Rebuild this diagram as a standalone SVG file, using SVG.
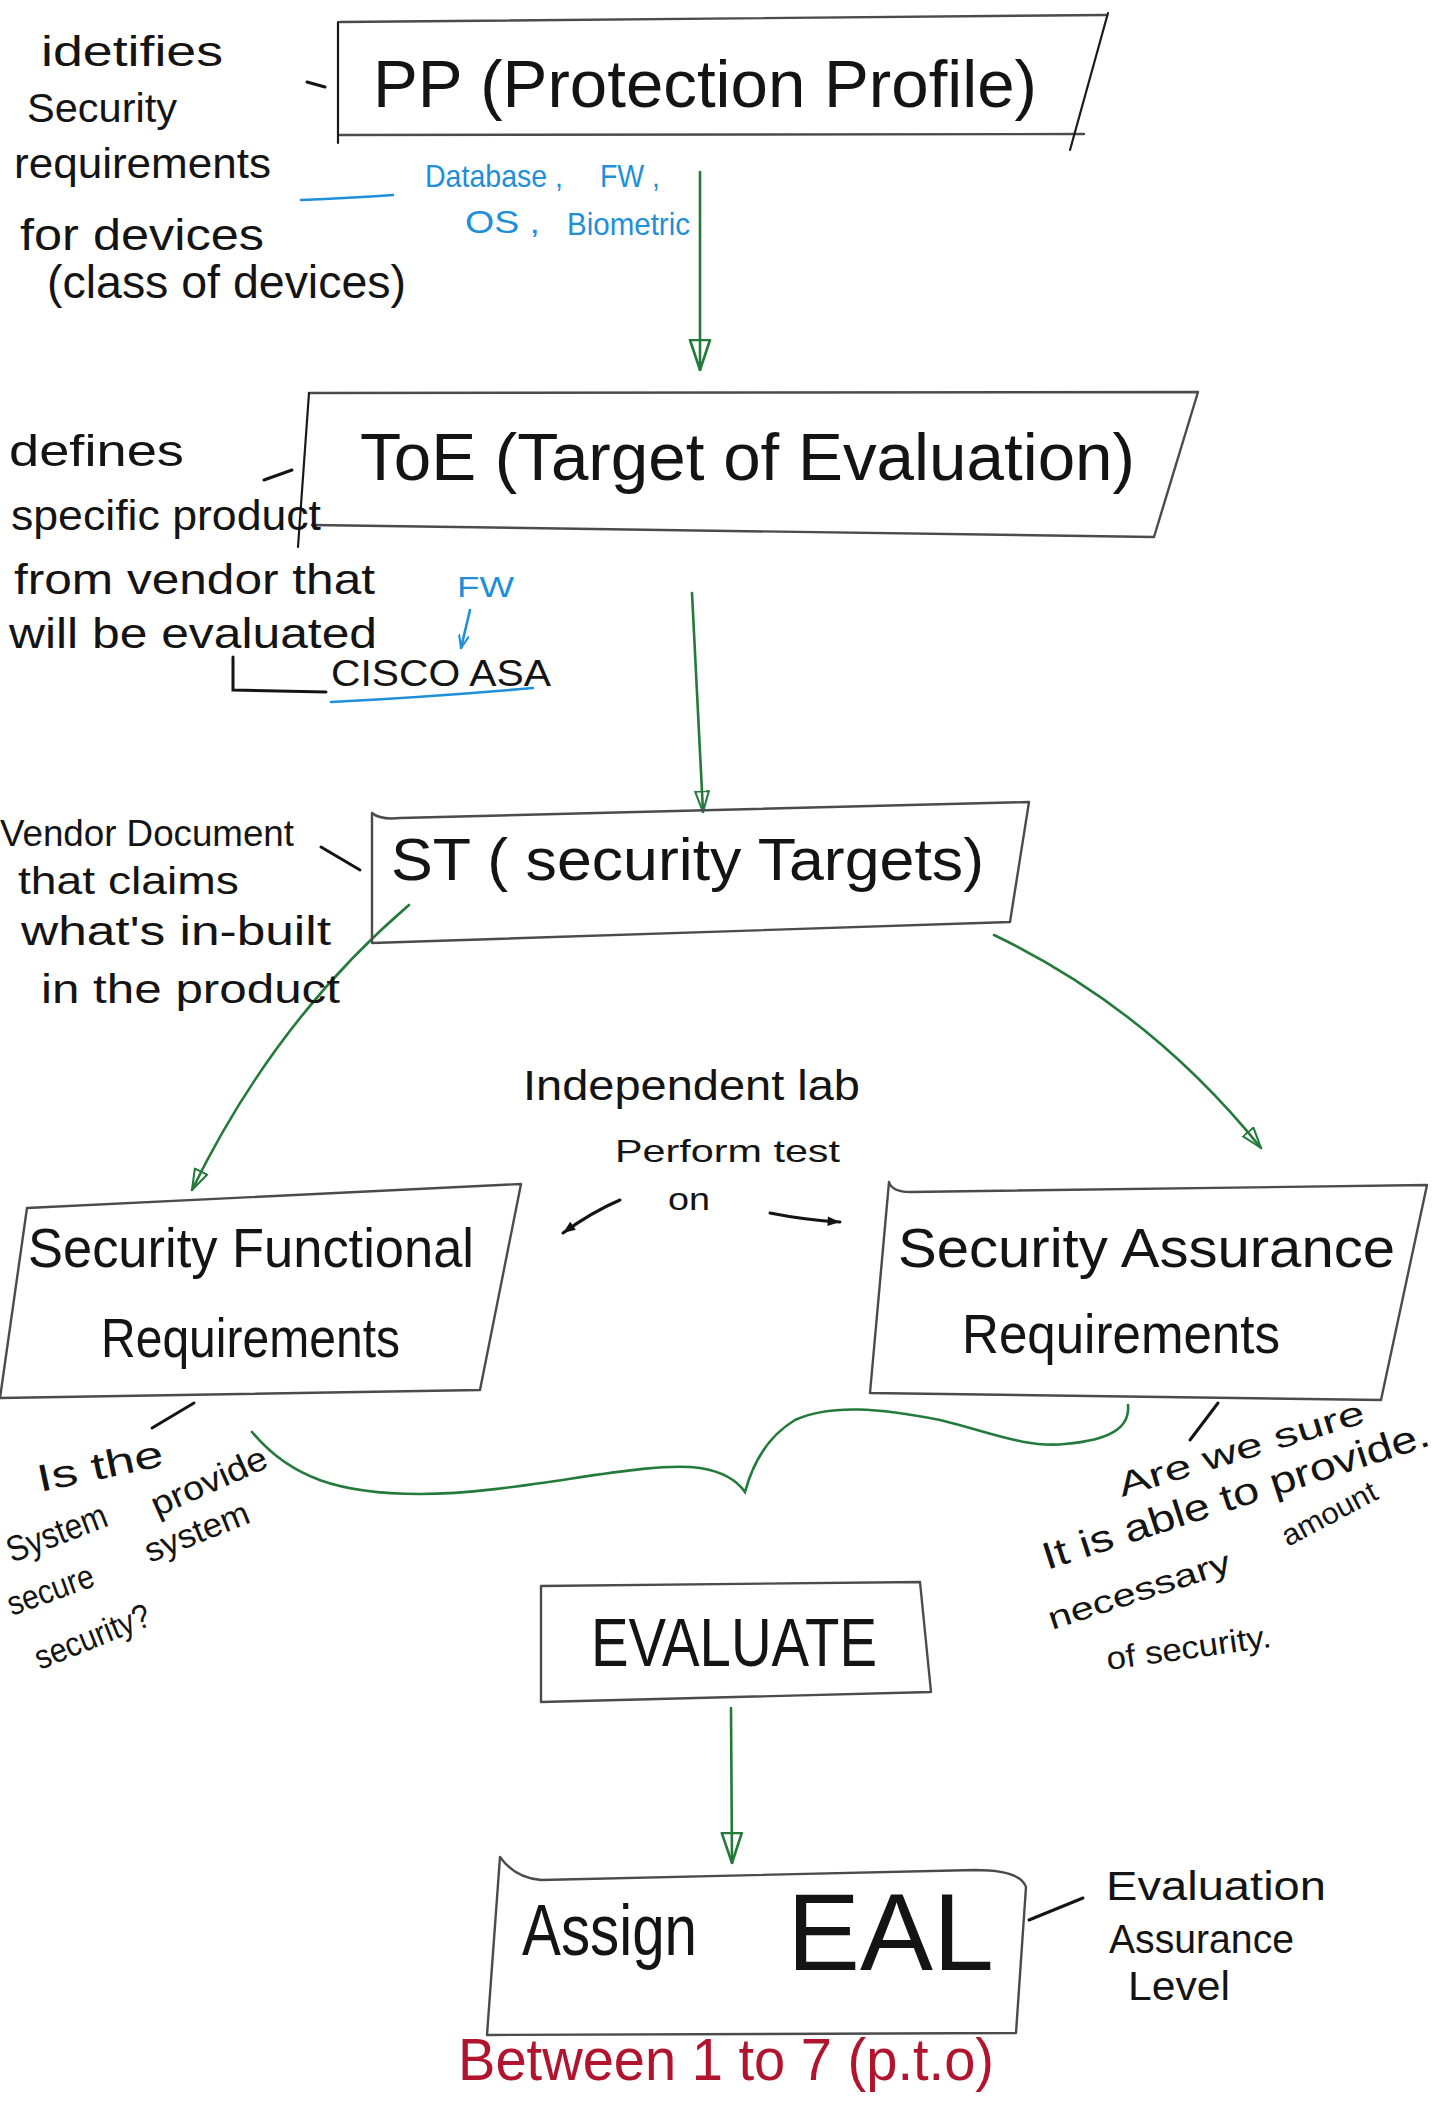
<svg xmlns="http://www.w3.org/2000/svg" width="1444" height="2123" viewBox="0 0 1444 2123">
  <style>
    .t { font-family: "Liberation Sans", Arial, sans-serif; fill: #141414; }
    .blue { fill: #1e8fd8; }
    .red { fill: #b0142e; }
    .box { fill: none; stroke: #4b4b4b; stroke-width: 2.4; stroke-linejoin: round; stroke-linecap: round; }
    .edge { fill: none; stroke: #1a1a1a; stroke-width: 2.2; stroke-linecap: round; }
    .ink { fill: none; stroke: #141414; stroke-width: 3; stroke-linecap: round; }
    .gr { fill: none; stroke: #237a3b; stroke-width: 2.6; stroke-linecap: round; }
    .bl { fill: none; stroke: #1e8fd8; stroke-width: 2.6; stroke-linecap: round; }
  </style>
  <defs>
    <marker id="headG" viewBox="0 0 32 24" refX="31" refY="12" markerWidth="32" markerHeight="24" markerUnits="userSpaceOnUse" orient="auto">
      <path d="M1,2 L31,12 L1,22 Z" fill="none" stroke="#237a3b" stroke-width="2.6" stroke-linejoin="round"/>
    </marker>
    <marker id="headGs" viewBox="0 0 32 24" refX="31" refY="12" markerWidth="22" markerHeight="17" markerUnits="userSpaceOnUse" orient="auto">
      <path d="M1,2 L31,12 L1,22 Z" fill="none" stroke="#237a3b" stroke-width="3" stroke-linejoin="round"/>
    </marker>
    <marker id="headB" viewBox="0 0 20 16" refX="19" refY="8" markerWidth="14" markerHeight="11" markerUnits="userSpaceOnUse" orient="auto">
      <path d="M1,1 L19,8 L1,15" fill="none" stroke="#1e8fd8" stroke-width="3" stroke-linecap="round"/>
    </marker>
    <marker id="headK" viewBox="0 0 20 16" refX="19" refY="8" markerWidth="14" markerHeight="11" markerUnits="userSpaceOnUse" orient="auto">
      <path d="M1,1 L19,8 L1,15 Z" fill="#141414"/>
    </marker>
  </defs>

  <rect width="1444" height="2123" fill="#ffffff"/>

  <!-- connectors -->
  <g id="connectors">
    <!-- PP -> ToE -->
    <path class="gr" d="M700,172 L700,370" marker-end="url(#headG)"/>
    <!-- ToE -> ST -->
    <path class="gr" d="M692,593 L703,812" marker-end="url(#headGs)"/>
    <!-- ST -> SFR / SAR -->
    <path class="gr" d="M409,905 Q275,1020 192,1190" marker-end="url(#headGs)"/>
    <path class="gr" d="M994,935 Q1150,1010 1261,1148" marker-end="url(#headGs)"/>
    <!-- brace joining SFR and SAR -->
    <path class="gr" d="M252,1432 C290,1478 340,1494 420,1494 C520,1494 640,1460 700,1468 C725,1472 738,1482 745,1492 C752,1466 765,1438 795,1420 C830,1404 880,1408 940,1420 C990,1432 1025,1448 1065,1444 C1110,1440 1130,1428 1128,1405"/>
    <!-- EVALUATE -> Assign EAL -->
    <path class="gr" d="M731,1708 L732,1863" marker-end="url(#headG)"/>
    <!-- lab performs tests on both requirement sets -->
    <path class="ink" d="M620,1200 Q592,1212 563,1233" marker-end="url(#headK)"/>
    <path class="ink" d="M770,1213 Q805,1220 840,1222" marker-end="url(#headK)"/>
    <!-- blue notes -->
    <path class="bl" d="M301,200 Q350,198 393,195"/>
    <path class="bl" d="M470,610 L461,648" marker-end="url(#headB)"/>
    <path class="bl" d="M331,702 Q430,697 533,688"/>
    <!-- callout ticks -->
    <path class="ink" d="M307,82 L325,87"/>
    <path class="ink" d="M264,480 L292,470"/>
    <path class="ink" d="M233,657 L233,690 L326,692"/>
    <path class="ink" d="M321,847 L360,870"/>
    <path class="ink" d="M194,1403 L152,1428" stroke="#333"/>
    <path class="ink" d="M1218,1403 L1190,1440"/>
    <path class="ink" d="M1029,1920 L1083,1898"/>
  </g>

  <!-- PP node -->
  <g id="pp">
    <path class="box" d="M340,22 L1106,15"/>
    <path class="box" d="M340,135 L1084,134"/>
    <path class="edge" d="M338,22 L338,143"/>
    <path class="edge" d="M1108,13 L1070,150"/>
    <text class="t" x="373" y="107" font-size="66" textLength="664" lengthAdjust="spacingAndGlyphs">PP (Protection Profile)</text>
  </g>

  <!-- ToE node -->
  <g id="toe">
    <path class="box" d="M309,393 L1198,392 L1154,537 L312,525"/>
    <path class="edge" d="M309,393 L298,547"/>
    <text class="t" x="360" y="480" font-size="66" textLength="775" lengthAdjust="spacingAndGlyphs">ToE (Target of Evaluation)</text>
  </g>

  <!-- ST node -->
  <g id="st">
    <path class="box" d="M372,813 Q380,820 400,818 L1029,802 L1010,922 L372,943 Z"/>
    <text class="t" x="391" y="880" font-size="60" textLength="593" lengthAdjust="spacingAndGlyphs">ST ( security Targets)</text>
  </g>

  <!-- Security Functional Requirements node -->
  <g id="sfr">
    <path class="box" d="M27,1208 L521,1184 L480,1390 L0,1398 Z"/>
    <text class="t" x="28" y="1267" font-size="56" textLength="446" lengthAdjust="spacingAndGlyphs">Security Functional</text>
    <text class="t" x="101" y="1357" font-size="56" textLength="299" lengthAdjust="spacingAndGlyphs">Requirements</text>
  </g>

  <!-- Security Assurance Requirements node -->
  <g id="sar">
    <path class="box" d="M889,1182 Q892,1192 910,1192 L1427,1185 L1381,1400 L870,1393 Z"/>
    <text class="t" x="898" y="1267" font-size="56" textLength="497" lengthAdjust="spacingAndGlyphs">Security Assurance</text>
    <text class="t" x="962" y="1353" font-size="56" textLength="318" lengthAdjust="spacingAndGlyphs">Requirements</text>
  </g>

  <!-- EVALUATE node -->
  <g id="evaluate">
    <path class="box" d="M541,1586 L920,1582 L931,1692 L541,1702 Z"/>
    <text class="t" x="591" y="1666" font-size="68" textLength="286" lengthAdjust="spacingAndGlyphs">EVALUATE</text>
  </g>

  <!-- Assign EAL node -->
  <g id="eal">
    <path class="box" d="M500,1857 Q515,1878 541,1880 L975,1870 Q1020,1870 1026,1887 L1016,2033 L487,2035 Z"/>
    <text class="t" x="522" y="1955" font-size="72" textLength="175" lengthAdjust="spacingAndGlyphs">Assign</text>
    <text class="t" x="787" y="1970" font-size="110" textLength="207" lengthAdjust="spacingAndGlyphs">EAL</text>
  </g>

  <!-- notes beside PP -->
  <g id="note-pp">
    <text class="t" x="41" y="66" font-size="42" textLength="182" lengthAdjust="spacingAndGlyphs">idetifies</text>
    <text class="t" x="27" y="122" font-size="40" textLength="150" lengthAdjust="spacingAndGlyphs">Security</text>
    <text class="t" x="14" y="178" font-size="42" textLength="257" lengthAdjust="spacingAndGlyphs">requirements</text>
    <text class="t" x="20" y="250" font-size="44" textLength="244" lengthAdjust="spacingAndGlyphs">for devices</text>
    <text class="t" x="47" y="298" font-size="46" textLength="359" lengthAdjust="spacingAndGlyphs">(class of devices)</text>
    <text class="t blue" x="425" y="187" font-size="32" textLength="138" lengthAdjust="spacingAndGlyphs">Database ,</text>
    <text class="t blue" x="600" y="187" font-size="32" textLength="60" lengthAdjust="spacingAndGlyphs">FW ,</text>
    <text class="t blue" x="465" y="233" font-size="32" textLength="75" lengthAdjust="spacingAndGlyphs">OS ,</text>
    <text class="t blue" x="567" y="235" font-size="32" textLength="123" lengthAdjust="spacingAndGlyphs">Biometric</text>
  </g>

  <!-- notes beside ToE -->
  <g id="note-toe">
    <text class="t" x="9" y="466" font-size="44" textLength="175" lengthAdjust="spacingAndGlyphs">defines</text>
    <text class="t" x="11" y="530" font-size="42" textLength="310" lengthAdjust="spacingAndGlyphs">specific product</text>
    <text class="t" x="14" y="594" font-size="42" textLength="361" lengthAdjust="spacingAndGlyphs">from vendor that</text>
    <text class="t" x="9" y="648" font-size="42" textLength="368" lengthAdjust="spacingAndGlyphs">will be evaluated</text>
    <text class="t" x="331" y="686" font-size="36" textLength="220" lengthAdjust="spacingAndGlyphs">CISCO ASA</text>
    <text class="t blue" x="457" y="597" font-size="30" textLength="57" lengthAdjust="spacingAndGlyphs">FW</text>
  </g>

  <!-- notes beside ST -->
  <g id="note-st">
    <text class="t" x="0" y="846" font-size="36" textLength="294" lengthAdjust="spacingAndGlyphs">Vendor Document</text>
    <text class="t" x="18" y="894" font-size="38" textLength="221" lengthAdjust="spacingAndGlyphs">that claims</text>
    <text class="t" x="21" y="945" font-size="40" textLength="310" lengthAdjust="spacingAndGlyphs">what's in-built</text>
    <text class="t" x="41" y="1003" font-size="40" textLength="299" lengthAdjust="spacingAndGlyphs">in the product</text>
  </g>

  <!-- independent lab note -->
  <g id="note-lab">
    <text class="t" x="523" y="1100" font-size="42" textLength="337" lengthAdjust="spacingAndGlyphs">Independent lab</text>
    <text class="t" x="615" y="1162" font-size="32" textLength="225" lengthAdjust="spacingAndGlyphs">Perform test</text>
    <text class="t" x="668" y="1210" font-size="32" textLength="42" lengthAdjust="spacingAndGlyphs">on</text>
  </g>

  <!-- question under SFR -->
  <g id="note-sfr">
    <text class="t" font-size="38" transform="translate(40,1492) rotate(-12)" textLength="128" lengthAdjust="spacingAndGlyphs">Is the</text>
    <text class="t" font-size="34" transform="translate(157,1517) rotate(-24)" textLength="124" lengthAdjust="spacingAndGlyphs">provide</text>
    <text class="t" font-size="36" transform="translate(12,1563) rotate(-21)" textLength="105" lengthAdjust="spacingAndGlyphs">System</text>
    <text class="t" font-size="34" transform="translate(150,1563) rotate(-22)" textLength="110" lengthAdjust="spacingAndGlyphs">system</text>
    <text class="t" font-size="34" transform="translate(12,1616) rotate(-20)" textLength="90" lengthAdjust="spacingAndGlyphs">secure</text>
    <text class="t" font-size="34" transform="translate(40,1670) rotate(-22)" textLength="122" lengthAdjust="spacingAndGlyphs">security?</text>
  </g>

  <!-- question under SAR -->
  <g id="note-sar">
    <text class="t" font-size="34" transform="translate(1122,1497) rotate(-17)" textLength="256" lengthAdjust="spacingAndGlyphs">Are we sure</text>
    <text class="t" font-size="38" transform="translate(1047,1570) rotate(-18)" textLength="405" lengthAdjust="spacingAndGlyphs">It is able to provide.</text>
    <text class="t" font-size="32" transform="translate(1052,1630) rotate(-18)" textLength="190" lengthAdjust="spacingAndGlyphs">necessary</text>
    <text class="t" font-size="30" transform="translate(1288,1547) rotate(-28)" textLength="104" lengthAdjust="spacingAndGlyphs">amount</text>
    <text class="t" font-size="32" transform="translate(1108,1670) rotate(-8)" textLength="166" lengthAdjust="spacingAndGlyphs">of security.</text>
  </g>

  <!-- EAL notes -->
  <g id="note-eal">
    <text class="t" x="1106" y="1900" font-size="40" textLength="220" lengthAdjust="spacingAndGlyphs">Evaluation</text>
    <text class="t" x="1109" y="1953" font-size="40" textLength="185" lengthAdjust="spacingAndGlyphs">Assurance</text>
    <text class="t" x="1128" y="2000" font-size="40" textLength="102" lengthAdjust="spacingAndGlyphs">Level</text>
    <text class="t red" x="458" y="2080" font-size="60" textLength="536" lengthAdjust="spacingAndGlyphs">Between 1 to 7 (p.t.o)</text>
  </g>
</svg>
